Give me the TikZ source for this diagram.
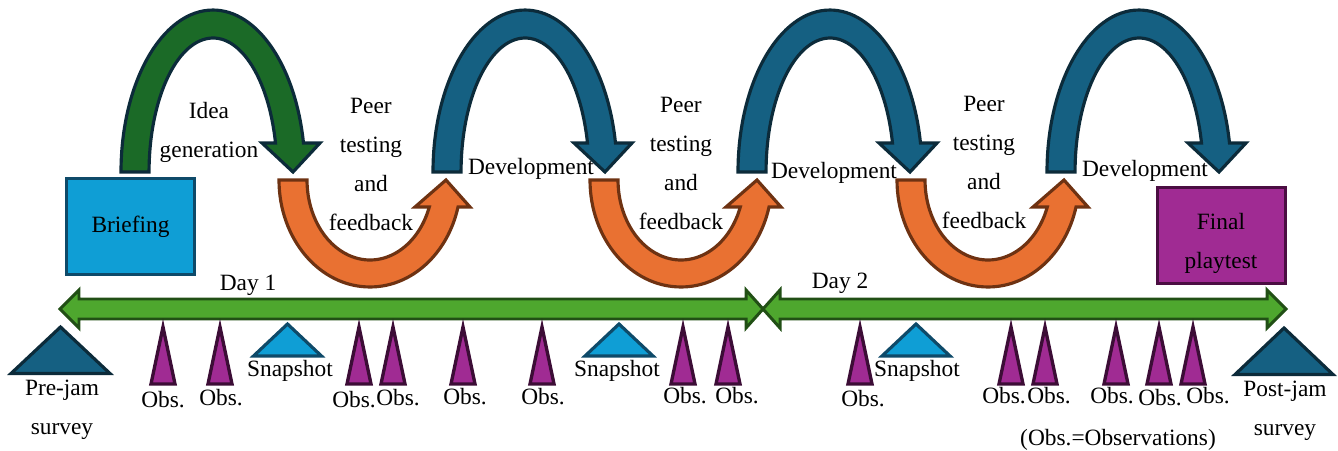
\documentclass[tikz,border=0pt]{standalone}
\usepackage{fontspec}
\setmainfont{Liberation Serif}
\usetikzlibrary{calc}

\definecolor{ideaGreen}{HTML}{1B6A27}
\definecolor{devBlue}{HTML}{156082}
\definecolor{archEdge}{HTML}{0C2B3A}
\definecolor{loopOrange}{HTML}{E97132}
\definecolor{loopEdge}{HTML}{6E3212}
\definecolor{briefBlue}{HTML}{0F9ED5}
\definecolor{briefEdge}{HTML}{0E4A69}
\definecolor{playPurple}{HTML}{A02B93}
\definecolor{playEdge}{HTML}{4B0E42}
\definecolor{obsEdge}{HTML}{3C0D36}
\definecolor{dayGreen}{HTML}{4EA72E}
\definecolor{dayEdge}{HTML}{214F15}

% arch over the top, #1 = left x of the leg
\newcommand{\upArch}[3]{%
  \filldraw[archLine, fill=#2, draw=#3] (#1,278)
    arc[start angle=180, end angle=10.31, x radius=1.84cm, y radius=3.24cm]
    -- ({#1+199},307) -- ({#1+172},278) -- ({#1+141},307) -- ({#1+154.5},307)
    arc[start angle=12.5, end angle=180, x radius=1.28cm, y radius=2.68cm] -- cycle;}
% loop underneath, pointing back up
\newcommand{\downArch}[1]{%
  \filldraw[archLine, fill=loopOrange, draw=loopEdge] (#1,270)
    arc[start angle=180, end angle=345.38, x radius=1.82cm, y radius=2.14cm]
    -- ({#1+191},243) -- ({#1+167},270) -- ({#1+136},243) -- ({#1+150.3},243)
    arc[start angle=340.27, end angle=180, x radius=1.26cm, y radius=1.6cm] -- cycle;}

\begin{document}
\begin{tikzpicture}[x=0.02cm, y=0.02cm,
    lbl/.style={font=\fontsize{13.3}{22.2}\selectfont, inner sep=0pt},
    archLine/.style={line width=1.8pt},
    boxStyle/.style={draw, line width=1.8pt, minimum width=2.56cm, minimum height=1.92cm, inner sep=0pt},
    dayArrow/.style={fill=dayGreen, draw=dayEdge, line width=1.7pt},
    obsMark/.style={fill=playPurple, draw=obsEdge, line width=1.9pt},
    snapMark/.style={fill=briefBlue, draw=briefEdge, line width=1.8pt},
    surveyMark/.style={fill=devBlue, draw=archEdge, line width=1.8pt},
  ]
  \useasboundingbox (0,0) rectangle (1338,450);

  % process arches
  \upArch{121}{ideaGreen}{archEdge}
  \upArch{433}{devBlue}{archEdge}
  \upArch{738}{devBlue}{archEdge}
  \upArch{1047}{devBlue}{archEdge}
  \downArch{279}
  \downArch{590}
  \downArch{897}

  % start and end boxes
  \node[boxStyle, fill=briefBlue, draw=briefEdge, lbl] (briefing) at (130.5,223.5) {Briefing};
  \node[boxStyle, fill=playPurple, draw=playEdge, line width=2.2pt] (final) at (1221.5,214.5) {};
  \node[lbl, align=center, anchor=north] (finalText) at (1221,237) {Final\\playtest};

  % arch labels
  \node[lbl, align=center, anchor=north] (idea) at (209,348) {Idea\\generation};
  \node[lbl, align=center, anchor=north] (peer1) at (371,352) {Peer\\testing\\and\\feedback};
  \node[lbl, align=center, anchor=north] (peer2) at (681,353) {Peer\\testing\\and\\feedback};
  \node[lbl, align=center, anchor=north] (peer3) at (984,354) {Peer\\testing\\and\\feedback};
  \node[lbl, anchor=base] (dev1) at (531,275) {Development};
  \node[lbl, anchor=base] (dev2) at (834,271) {Development};
  \node[lbl, anchor=base] (dev3) at (1145,273) {Development};

  % timeline
  \draw[dayArrow] (60,141) -- (79,160) -- (79,151) -- (746,151) -- (746,160) -- (763,141)
    -- (746,122) -- (746,131) -- (79,131) -- (79,122) -- cycle;
  \draw[dayArrow] (763,141) -- (780,160) -- (780,151) -- (1267,151) -- (1267,160) -- (1286,141)
    -- (1267,122) -- (1267,131) -- (780,131) -- (780,122) -- cycle;
  \node[lbl, anchor=base] (day1) at (248,160) {Day 1};
  \node[lbl, anchor=base] (day2) at (840,162) {Day 2};

  % surveys
  \filldraw[surveyMark] (11,76.5) -- (60.5,123) -- (110,76.5) -- cycle;
  \filldraw[surveyMark] (1235,75.5) -- (1284,122) -- (1333,75.5) -- cycle;
  \node[lbl, align=center, anchor=north] (preSurvey) at (62,70) {Pre-jam\\survey};
  \node[lbl, align=center, anchor=north] (postSurvey) at (1285,69) {Post-jam\\survey};

  % snapshots
  \foreach \x/\t [count=\i] in {287.5/290,619/617,916/917} {
    \filldraw[snapMark] ({\x-34},94) -- (\x,126) -- ({\x+34},94) -- cycle;
    \node[lbl, anchor=base] (snap\i) at (\t,74) {Snapshot};
  }

  % observations
  \foreach \x in {163,220,359,393,463,542,683,728,860,1011,1045,1116,1159,1193}
    \filldraw[obsMark] ({\x-12},66) -- (\x,123) -- ({\x+12},66) -- cycle;
  \foreach \x/\y [count=\i] in {163/407,221/405,354/407,398/405,465/404,543/404,685/403,
      737/403,863/406,1004/403,1049/403,1112/403,1160/405,1208/403}
    \node[lbl, anchor=base] (obs\i) at (\x,{450-\y}) {Obs.};
  \node[lbl, anchor=base] (obsNote) at (1118,5) {(Obs.=Observations)};
\end{tikzpicture}
\end{document}
